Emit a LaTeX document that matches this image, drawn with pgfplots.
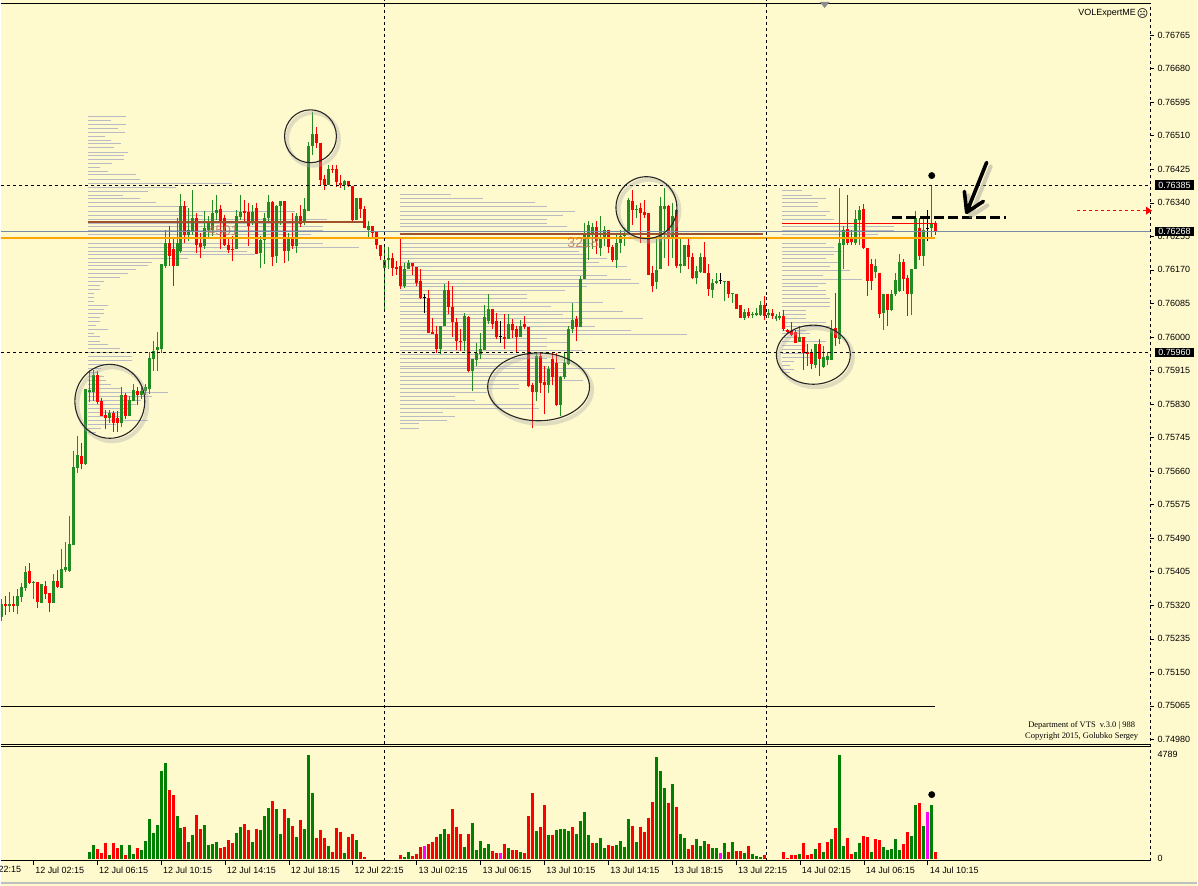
\documentclass[border=0pt]{standalone}
\usepackage{pgfplots}
\pgfplotsset{compat=1.18}
\usepackage{pgfplotstable}
\usepackage{fontspec}
\setmainfont{Liberation Sans}
\newfontfamily\dejavu{DejaVu Sans}
\newfontfamily\tms{Liberation Serif}
\usetikzlibrary{arrows.meta}

\definecolor{bg}{RGB}{255,250,205}
\definecolor{cgreen}{RGB}{34,139,34}
\definecolor{cred}{RGB}{255,0,0}
\definecolor{vgreen}{RGB}{0,128,0}
\definecolor{vmag}{RGB}{255,0,255}
\definecolor{prof}{RGB}{184,186,196}
\definecolor{brownl}{RGB}{160,82,45}
\definecolor{orangel}{RGB}{255,165,0}
\definecolor{curp}{RGB}{120,140,170}
\definecolor{tanl}{RGB}{185,115,85}

\pgfplotstableread{
k o h l c
0 75291 75336 75280 75323
1 75323 75344 75296 75317
2 75317 75354 75303 75323
3 75323 75344 75303 75317
4 75319 75361 75299 75344
5 75342 75377 75329 75366
6 75365 75420 75357 75404
7 75407 75427 75374 75377
8 75377 75382 75336 75380
9 75379 75379 75314 75329
10 75327 75374 75327 75374
11 75369 75382 75337 75349
12 75351 75351 75304 75327
13 75327 75399 75327 75382
14 75382 75409 75364 75366
15 75365 75462 75365 75412
16 75409 75480 75404 75417
17 75408 75546 75405 75475
18 75473 75710 75473 75670
19 75668 75748 75656 75700
20 75698 75731 75665 75678
21 75678 75867 75675 75867
22 75860 75915 75834 75865
23 75860 75915 75837 75903
24 75903 75913 75829 75834
25 75837 75846 75800 75800
26 75801 75814 75766 75794
27 75794 75814 75783 75807
28 75807 75812 75760 75781
29 75794 75812 75760 75781
30 75781 75872 75771 75852
31 75852 75857 75791 75799
32 75799 75850 75799 75840
33 75837 75882 75837 75865
34 75862 75872 75828 75852
35 75852 75872 75842 75862
36 75862 75882 75852 75872
37 75867 75961 75855 75946
38 75945 75990 75914 75964
39 75966 76012 75914 75975
40 75969 76184 75960 76184
41 76179 76272 76175 76239
42 76239 76280 76179 76205
43 76224 76254 76129 76181
44 76181 76302 76181 76239
45 76219 76363 76213 76331
46 76331 76344 76239 76259
47 76259 76327 76243 76272
48 76268 76372 76259 76302
49 76302 76314 76213 76234
50 76237 76264 76201 76228
51 76230 76318 76222 76275
52 76272 76306 76247 76289
53 76272 76346 76255 76313
54 76313 76361 76297 76323
55 76325 76335 76222 76293
56 76302 76310 76230 76232
57 76234 76251 76213 76220
58 76224 76255 76192 76220
59 76222 76323 76222 76306
60 76304 76361 76297 76316
61 76318 76348 76293 76314
62 76316 76340 76230 76282
63 76289 76335 76285 76316
64 76327 76340 76209 76211
65 76213 76255 76175 76245
66 76245 76314 76184 76302
67 76302 76361 76289 76341
68 76341 76344 76179 76203
69 76204 76335 76188 76333
70 76333 76344 76285 76344
71 76344 76344 76188 76217
72 76217 76264 76192 76249
73 76249 76314 76223 76230
74 76230 76314 76213 76306
75 76306 76335 76279 76287
76 76289 76352 76285 76324
77 76318 76495 76318 76483
78 76483 76571 76462 76515
79 76515 76532 76479 76491
80 76491 76491 76382 76399
81 76401 76411 76372 76386
82 76386 76437 76386 76426
83 76426 76437 76416 76422
84 76426 76437 76380 76393
85 76390 76411 76378 76385
86 76385 76399 76373 76394
87 76396 76396 76380 76383
88 76383 76383 76293 76296
89 76296 76352 76296 76352
90 76352 76352 76302 76324
91 76324 76333 76276 76276
92 76272 76293 76254 76282
93 76282 76282 76251 76264
94 76265 76265 76224 76232
95 76232 76232 76194 76206
96 76175 76230 76065 76196
97 76194 76228 76173 76199
98 76201 76213 76154 76175
99 76177 76192 76158 76173
100 76181 76249 76122 76129
101 76129 76188 76125 76171
102 76171 76196 76171 76188
103 76188 76188 76158 76179
104 76178 76178 76129 76137
105 76141 76171 76095 76099
106 76099 76108 76061 76099
107 76099 76120 76011 76011
108 76013 76049 76008 76008
109 76008 76027 75960 75970
110 75970 76027 75956 76027
111 76027 76133 76027 76120
112 76120 76141 76057 76077
113 76077 76129 76001 76039
114 76039 76047 75967 75990
115 75991 76019 75964 75990
116 75990 76061 75964 76053
117 76051 76053 75910 75914
118 75914 75943 75863 75943
119 75941 75985 75926 75960
120 75958 76011 75943 75969
121 75967 76080 75967 76051
122 76040 76108 76032 76070
123 76070 76070 76019 76032
124 76040 76061 75994 76001
125 76001 76040 75985 76001
126 76001 76057 75969 75996
127 75996 76057 75994 76034
128 76034 76046 75998 76017
129 76019 76029 75960 76001
130 76001 76044 76001 76027
131 76032 76053 76019 76026
132 76026 76026 75872 75876
133 75877 75884 75768 75860
134 75860 75956 75838 75952
135 75952 75960 75859 75884
136 75887 75926 75804 75878
137 75878 75926 75859 75920
138 75943 75960 75877 75899
139 75935 75960 75825 75827
140 75827 75901 75800 75899
141 75899 75960 75893 75935
142 75931 76029 75928 76019
143 76019 76087 76011 76043
144 76046 76053 75990 76026
145 76026 76154 76026 76147
146 76146 76289 76146 76259
147 76251 76293 76196 76285
148 76262 76289 76222 76279
149 76279 76293 76209 76243
150 76226 76306 76205 76251
151 76251 76282 76230 76272
152 76272 76272 76213 76228
153 76228 76234 76189 76194
154 76196 76259 76175 76237
155 76237 76272 76213 76255
156 76255 76276 76230 76259
157 76259 76352 76259 76346
158 76344 76372 76285 76321
159 76321 76335 76302 76325
160 76327 76340 76237 76313
161 76316 76348 76302 76310
162 76313 76313 76156 76156
163 76161 76179 76113 76129
164 76139 76255 76122 76169
165 76171 76355 76171 76331
166 76324 76378 76201 76331
167 76331 76335 76179 76249
168 76249 76340 76201 76306
169 76323 76323 76175 76179
170 76179 76251 76163 76184
171 76181 76234 76179 76232
172 76232 76247 76173 76203
173 76203 76213 76146 76150
174 76150 76179 76133 76167
175 76164 76213 76163 76203
176 76203 76240 76163 76163
177 76163 76184 76103 76122
178 76120 76146 76099 76137
179 76137 76163 76133 76143
180 76143 76163 76133 76143
181 76141 76143 76091 76143
182 76143 76143 76099 76110
183 76110 76112 76087 76112
184 76110 76110 76070 76070
185 76082 76082 76049 76049
186 76049 76070 76044 76063
187 76063 76074 76049 76053
188 76055 76062 76049 76057
189 76055 76074 76053 76061
190 76055 76091 76053 76082
191 76082 76103 76044 76053
192 76056 76071 76048 76061
193 76060 76070 76046 76053
194 76046 76057 76040 76053
195 76047 76062 76042 76053
196 76053 76068 76015 76019
197 76017 76021 76009 76012
198 76015 76038 76002 76006
199 76012 76017 75984 75985
200 75987 76029 75987 76000
201 76000 76000 75916 75960
202 75962 75983 75926 75956
203 75962 75969 75918 75931
204 75928 75981 75922 75981
205 75981 75996 75901 75943
206 75925 75977 75922 75950
207 75941 75962 75928 75952
208 75941 76042 75941 76019
209 76023 76112 75977 75998
210 75994 76378 75981 76237
211 76234 76280 76173 76272
212 76274 76361 76233 76239
213 76247 76272 76233 76241
214 76239 76323 76233 76299
215 76297 76333 76234 76323
216 76324 76337 76223 76226
217 76226 76226 76103 76141
218 76184 76198 76119 76141
219 76164 76198 76150 76181
220 76161 76161 76049 76057
221 76060 76110 76017 76110
222 76110 76110 76027 76068
223 76068 76120 76065 76108
224 76108 76163 76103 76144
225 76116 76211 76113 76191
226 76191 76198 76116 76147
227 76150 76156 76053 76109
228 76109 76173 76055 76173
229 76173 76318 76171 76302
230 76276 76302 76196 76205
231 76205 76302 76181 76272
232 76276 76323 76243 76276
233 76276 76385 76254 76289
234 76289 76293 76259 76268
}\candles

\pgfplotstableread{
k v c
22 300 0
23 615 0
24 435 1
25 255 1
26 705 1
27 165 0
28 705 1
29 480 1
30 615 0
31 165 1
32 615 0
33 210 0
34 480 1
35 390 0
36 795 0
37 1830 0
38 1200 0
39 1560 0
40 4035 0
41 4395 0
42 3180 1
43 2910 1
44 1965 0
45 1425 0
46 1470 1
47 750 0
48 1065 0
49 2010 1
50 1380 1
51 1560 0
52 615 0
53 660 0
54 750 0
55 480 1
56 525 1
57 840 1
58 705 1
59 1200 0
60 1470 0
61 1605 1
62 1335 1
63 750 0
64 1380 1
65 1335 0
66 1965 0
67 2325 0
68 2640 1
69 2280 0
70 1155 0
71 2280 1
72 1860 0
73 1515 1
74 975 0
75 1785 1
76 1380 0
77 4760 0
78 3045 0
79 930 1
80 1335 1
81 930 1
82 570 0
83 300 1
84 1425 1
85 1245 1
86 255 0
87 975 1
88 1155 1
89 840 0
90 300 1
91 75 1
100 165 1
101 75 0
102 300 0
103 120 1
104 210 1
105 525 1
106 570 2
107 660 1
108 750 1
109 975 1
110 1155 0
111 1380 0
112 1155 1
113 2280 1
114 1470 1
115 1155 1
116 525 0
117 1155 1
118 1650 0
119 390 0
120 795 0
121 480 0
122 660 0
123 345 1
124 255 1
125 255 2
126 660 1
127 480 0
128 390 1
129 390 1
130 300 0
131 255 1
132 1965 1
133 3045 1
134 1290 0
135 1470 1
136 2460 1
137 1110 0
138 1065 1
139 1335 0
140 1380 0
141 1380 0
142 1290 0
143 1470 1
144 1155 0
145 1740 0
146 2145 0
147 1110 0
148 705 1
149 705 0
150 930 0
151 480 0
152 615 1
153 585 1
154 615 0
155 795 0
156 525 0
157 1830 0
158 1515 1
159 750 0
160 1470 1
161 1245 1
162 1875 1
163 2595 1
164 4700 0
165 4035 0
166 3270 0
167 2550 1
168 3450 0
169 2370 1
170 1155 0
171 930 0
172 435 1
173 615 1
174 885 0
175 570 0
176 795 0
177 660 1
178 480 0
179 480 0
180 255 2
181 705 0
182 300 1
183 750 0
184 345 1
185 345 1
186 255 0
187 570 1
188 210 0
189 120 0
190 90 0
191 165 1
196 300 1
197 30 1
198 165 1
199 165 1
200 210 0
201 705 1
202 180 1
203 210 1
204 435 0
205 705 1
206 300 0
207 750 1
208 885 0
209 1425 1
210 4755 0
211 570 0
212 930 1
213 225 1
214 300 0
215 705 0
216 1020 1
217 975 1
218 300 0
219 885 1
220 840 1
221 525 0
222 390 0
223 435 0
224 885 0
225 390 0
226 660 1
227 1245 1
228 1020 0
229 2460 0
230 2550 1
231 1515 0
232 2145 2
233 2460 0
234 300 1
}\vol

\pgfplotstableread{
p len
76558 9.4
76548 5.7
76538 9.4
76529 7.4
76519 9.2
76509 4.2
76499 5.7
76490 8.2
76480 6.4
76469 9.9
76459 8.9
76449 8.9
76439 5.9
76429 2.9
76420 4.9
76411 11.9
76400 12.9
76390 35.9
76380 21.9
76370 14.9
76360 8.7
76350 12.9
76340 16.9
76330 24.9
76318 51.9
76309 28.7
76299 59.9
76289 53.2
76279 58.9
76269 58.9
76259 55.9
76249 58.2
76238 58.9
76228 67.9
76218 39.9
76208 41.9
76198 24.9
76188 15.9
76181 14.9
76171 11.9
76161 9.9
76151 7.9
76141 3.9
76130 2.9
76120 2.9
76110 1.5
76100 1.5
76090 1.5
76080 4.9
76070 3.9
76060 3.9
76049 2.9
76039 2.9
76029 1.9
76019 4.9
76009 1.5
76001 2.9
75990 2.9
75980 4.9
75970 7.9
75960 10.9
75950 10.9
75940 10.9
75931 6.2
75920 3.2
75910 2.4
75900 3.9
75890 4.4
75880 5.7
75870 8.2
75859 19.9
75849 15.9
75840 13.2
75829 11.9
75819 10.2
75809 9.4
75799 8.2
75789 14.9
75779 6.9
75769 3.2
75758 1.9
}\profA

\pgfplotstableread{
p len
76361 12.9
76350 20.9
76340 33.9
76330 36.9
76319 43.9
76309 40.9
76299 36.9
76289 36.9
76279 41.9
76268 81.9
76259 75
76249 62.7
76238 48.4
76228 46.9
76218 44.9
76208 46.9
76198 51.9
76188 49.9
76178 56.9
76168 46.9
76157 51.9
76147 57.9
76137 59.9
76127 46.9
76117 41.4
76107 31.9
76097 31.9
76087 50.9
76077 37.9
76066 55.9
76056 40.9
76048 60.9
76038 45.9
76027 48.9
76017 57.9
76007 71.9
75997 36.9
75987 41.9
75977 36.9
75967 45.9
75957 35.2
75946 36.9
75936 41.9
75926 36.9
75920 53.9
75910 41.9
75899 41.9
75889 45.9
75879 29.9
75869 29.9
75859 21.9
75849 13.9
75839 18.9
75829 33.9
75818 34.9
75808 10.9
75798 13.9
75788 11.9
75780 4.9
75769 4.9
}\profB

\pgfplotstableread{
p len
76371 5
76360 7.5
76350 11
76340 9
76330 9
76319 12
76309 11
76299 13
76289 16.8
76279 28
76269 28
76259 24
76249 16.8
76238 11
76228 13
76218 15
76208 13
76198 11
76188 14
76178 12
76168 17
76157 10.2
76147 20
76137 11
76129 9
76119 11
76108 11
76098 12
76088 12
76078 12
76068 6
76058 6
76048 6
76038 11
76027 12
76017 6
76009 7
75999 6
75989 11
75979 6
75969 5
75958 6
75948 7
75938 3
75928 2
75918 3
75910 2
}\profC

\pgfplotsset{
  mtbase/.style={
    scale only axis, width=1151pt,
    xmin=-0.075, xmax=287.675,
    axis line style={draw=none},
    scaled x ticks=false, scaled y ticks=false,
    tick align=outside, major tick length=4pt,
    tick style={black, line width=0.5pt},
    tick label style={font=\fontsize{9}{10}\selectfont, text=black},
    clip mode=individual,
  },
  up/.style={restrict expr to domain={\thisrow{c}-\thisrow{o}}{0.5:100000}},
  dn/.style={restrict expr to domain={\thisrow{c}-\thisrow{o}}{-100000:-0.5}},
  dj/.style={restrict expr to domain={\thisrow{c}-\thisrow{o}}{-0.5:0.5}},
  wick/.style={line width=1pt, quiver={u=0,v=\thisrow{h}-\thisrow{l}}},
  body/.style={line width=3pt, quiver={u=0,v=\thisrow{c}-\thisrow{o}}},
  plin/.style={prof, line width=0.8pt, quiver={u=\thisrow{len},v=0}},
  vg/.style={restrict expr to domain={\thisrow{c}}{-0.5:0.5}},
  vr/.style={restrict expr to domain={\thisrow{c}}{0.5:1.5}},
  vm/.style={restrict expr to domain={\thisrow{c}}{1.5:2.5}},
  vbar/.style={line width=3pt, quiver={u=0,v=\thisrow{v}}},
  sep/.style={black, line width=0.7pt, dash pattern=on 3pt off 3pt},
}

\begin{document}
\begin{tikzpicture}[x=1pt,y=1pt]
\fill[bg] (0,0) rectangle (1198,887);

% ---------------- main price panel ----------------
\begin{axis}[mtbase,
  name=main, at={(0pt,142pt)}, anchor=south west, height=745pt,
  ymin=74969, ymax=76854,
  xtick=\empty,
  ytick={74980,75065,75150,75235,75320,75405,75490,75575,75660,75745,75830,75915,76000,76085,76170,76255,76340,76425,76510,76595,76680,76765},
  yticklabels={0.74980,0.75065,0.75150,0.75235,0.75320,0.75405,0.75490,0.75575,0.75660,0.75745,0.75830,0.75915,0.76000,0.76085,0.76170,0.76255,0.76340,0.76425,0.76510,0.76595,0.76680,0.76765},
  ytick pos=right, yticklabel pos=right,
]
% volume profiles
\addplot[plin] table[x expr=21.75, y=p] {\profA};
\addplot[plin] table[x expr=99.75, y=p] {\profB};
\addplot[plin] table[x expr=195.6, y=p] {\profC};
% candles
\addplot[cgreen, wick, up] table[x=k, y=l] {\candles};
\addplot[cred, wick, dn] table[x=k, y=l] {\candles};
\addplot[black, wick, dj] table[x=k, y=l] {\candles};
\addplot[cgreen, body, up] table[x=k, y=o] {\candles};
\addplot[cred, body, dn] table[x=k, y=o] {\candles};
\addplot[black, line width=1pt, quiver={u=0.75,v=0}, dj] table[x expr=\thisrow{k}-0.375, y=o] {\candles};
% level lines
\addplot[curp, line width=0.8pt] coordinates {(-0.075,76268) (287.675,76268)};
\addplot[orangel, line width=2.2pt] coordinates {(-0.075,76250) (233.9,76250)};
\addplot[brownl, line width=2.2pt] coordinates {(21.75,76291) (90.7,76291)};
\addplot[brownl, line width=2.2pt] coordinates {(99.75,76261) (190.7,76261)};
\addplot[red, line width=0.8pt] coordinates {(195.6,76289) (233.9,76289)};
\addplot[black, line width=1.6pt] coordinates {(-0.075,75063) (233.9,75063)};
\addplot[sep] coordinates {(-0.075,76385) (287.675,76385)};
\addplot[sep] coordinates {(-0.075,75960) (287.675,75960)};
\addplot[sep] coordinates {(95.9,74969) (95.9,76854)};
\addplot[sep] coordinates {(191.7,74969) (191.7,76854)};
% annotations
\addplot[black, line width=3pt, dash pattern=on 10pt off 4pt] coordinates {(223.1,76304) (251.7,76304)};
\addplot[red, line width=0.8pt, dash pattern=on 3pt off 3pt] coordinates {(269.4,76320) (286.6,76320)};
\addplot[only marks, mark=*, mark size=3.2pt, black] coordinates {(233,76409)};
% price boxes
\node[fill=black, text=white, anchor=west, inner xsep=3.5pt, inner ysep=1.5pt, font=\fontsize{9}{10}\selectfont] at (axis cs:287.675,76385) [xshift=4.5pt] {0.76385};
\node[fill=black, text=white, anchor=west, inner xsep=3.5pt, inner ysep=1.5pt, font=\fontsize{9}{10}\selectfont] at (axis cs:287.675,76268) [xshift=4.5pt] {0.76268};
\node[fill=black, text=white, anchor=west, inner xsep=3.5pt, inner ysep=1.5pt, font=\fontsize{9}{10}\selectfont] at (axis cs:287.675,75960) [xshift=4.5pt] {0.75960};
\end{axis}

% ---------------- volume panel ----------------
\begin{axis}[mtbase,
  name=vol, at={(0pt,25pt)}, anchor=south west, height=115pt,
  ymin=-92, ymax=5203,
  xtick={8,24,40,56,72,88,104,120,136,152,168,184,200,216,232},
  xticklabels={12 Jul 02:15,12 Jul 06:15,12 Jul 10:15,12 Jul 14:15,12 Jul 18:15,12 Jul 22:15,13 Jul 02:15,13 Jul 06:15,13 Jul 10:15,13 Jul 14:15,13 Jul 18:15,13 Jul 22:15,14 Jul 02:15,14 Jul 06:15,14 Jul 10:15},
  xtick pos=bottom,
  xticklabel style={anchor=north west, xshift=-1.5pt, yshift=1pt},
  ytick={0,4789}, yticklabels={0,4789},
  ytick pos=right, yticklabel pos=right,
  ytick style={draw=none},
]
\addplot[vgreen, vbar, vg] table[x=k, y expr=0] {\vol};
\addplot[cred, vbar, vr] table[x=k, y expr=0] {\vol};
\addplot[vmag, vbar, vm] table[x=k, y expr=0] {\vol};
\addplot[sep] coordinates {(95.9,-92) (95.9,5203)};
\addplot[sep] coordinates {(191.7,-92) (191.7,5203)};
\addplot[only marks, mark=*, mark size=3.2pt, black] coordinates {(233,2950)};
\end{axis}

% profile labels
\node[text=tanl, opacity=0.8, font=\fontsize{14}{14}\selectfont, inner sep=0pt] at (222.5,656) {4501};
\node[text=tanl, opacity=0.8, font=\fontsize{14}{14}\selectfont, inner sep=0pt] at (583,644) {3218};

% frame lines
\draw[black, line width=0.8pt] (0,883.5) -- (1151.5,883.5);
\draw[black, line width=0.8pt] (0,141.5) -- (1151.5,141.5);
\draw[black, line width=0.8pt] (0,139) -- (1151.5,139);
\draw[black, line width=1.4pt] (0,25) -- (1152,25);
\draw[black, line width=0.7pt, dash pattern=on 3pt off 3pt] (1151.5,25) -- (1151.5,884);
\draw[black!25, line width=2pt] (0,2.5) -- (1198,2.5);
\fill[black!45] (820,885) -- (830,885) -- (825,879) -- cycle;
\node[overlay, anchor=north west, font=\fontsize{9}{10}\selectfont, inner sep=1pt] at (-29.5,21) {11 Jul 22:15};

% ellipses
\foreach \cx/\cy/\rx/\ry in {109/485/35/37, 310/750.5/26/26.5, 538.5/499.5/51/34, 646.5/679/30.5/31, 813.7/531.7/37/29.6}{
  \draw[black!35, opacity=0.35, line width=4pt] (\cx+2.5,\cy-3) ellipse ({\rx} and {\ry});
  \draw[black!85, line width=1.1pt] (\cx,\cy) ellipse ({\rx} and {\ry});
}

% arrow
\draw[black!40, opacity=0.45, line width=4pt, line cap=round, line join=round] (991.3,720.3) -- (971.3,670.3) (969,691.3) -- (971.3,670.3) -- (988,681.3);
\draw[black, line width=3.6pt, line cap=round, line join=round] (987.3,724.3) -- (967.3,674.3) (965,695.3) -- (967.3,674.3) -- (984,685.3);

% red marker at right
\fill[red] (1147,672) -- (1153,676) -- (1147,680) -- cycle;

% texts
\node[anchor=east, font=\fontsize{9}{10}\selectfont, inner sep=0pt] at (1137,873.5) {VOLExpertME};
\node[anchor=west, font=\dejavu\fontsize{11}{11}\selectfont, inner sep=0pt] at (1137.5,873.5) {☹};
\node[font=\tms\fontsize{8.5}{9}\selectfont, inner sep=0pt] at (1082.5,160.5) {Department of VTS\ \ v.3.0 | 988};
\node[font=\tms\fontsize{8.5}{9}\selectfont, inner sep=0pt] at (1082.5,149.5) {Copyright 2015, Golubko Sergey};
\end{tikzpicture}
\end{document}
